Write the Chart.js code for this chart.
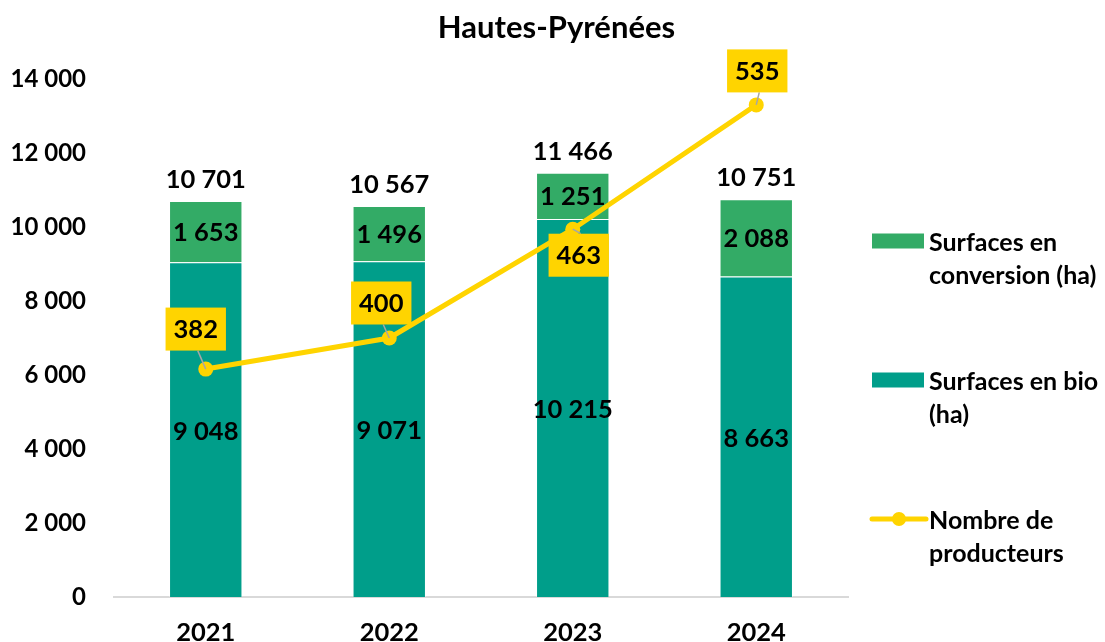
<!DOCTYPE html>
<html lang="fr">
<head>
<meta charset="utf-8">
<title>Hautes-Pyrénées</title>
<script src="https://cdn.jsdelivr.net/npm/chart.js@4.4.1/dist/chart.umd.min.js"></script>
<style>
  html, body { margin: 0; padding: 0; background: #fff; }
  #wrap { width: 1105px; height: 642px; position: relative; }
</style>
</head>
<body>
<div id="wrap"><canvas id="bioChart"></canvas></div>
<script>
// Valeurs
const years = ["2021", "2022", "2023", "2024"];
const surfBio = [9048, 9071, 10215, 8663];
const surfConversion = [1653, 1496, 1251, 2088];
const surfTotal = [10701, 10567, 11466, 10751];
const producteurs = [382, 400, 463, 535];

const chartTitle = "Hautes-Pyrénées";
const legendLabels = [
  ["Surfaces en", "conversion (ha)"],
  ["Surfaces en bio", "(ha)"],
  ["Nombre de", "producteurs"]
];

const COL_CONV = "#33AB66";
const COL_BIO = "#009E8A";
const COL_PROD = "#FFD400";
const FONT = 'Lato, "Open Sans", sans-serif';
const NUM_SIZE = 25.5;
const TICK_SIZE = 24;

// placement of the yellow labels around each point (dx, dy of box centre)
const prodLabelOffsets = [[-10, -40], [-8, -35], [6, 26], [1, -34]];

const fmt = v => String(Math.round(v)).replace(/\B(?=(\d{3})+(?!\d))/g, " ");

Chart.defaults.font.family = FONT;
Chart.defaults.color = "#000";

const labelsPlugin = {
  id: "valueLabels",
  afterDatasetsDraw(chart) {
    const ctx = chart.ctx;
    const lineMeta = chart.getDatasetMeta(0);
    const bioMeta = chart.getDatasetMeta(1);
    const convMeta = chart.getDatasetMeta(2);
    ctx.save();
    ctx.font = "bold " + NUM_SIZE + "px " + FONT;
    ctx.textAlign = "center";
    ctx.textBaseline = "middle";
    ctx.fillStyle = "#000";

    bioMeta.data.forEach((bar, i) => {
      ctx.fillText(fmt(surfBio[i]), bar.x, (bar.y + bar.base) / 2 + 2);
    });
    convMeta.data.forEach((bar, i) => {
      ctx.fillText(fmt(surfConversion[i]), bar.x, (bar.y + bar.base) / 2 + 1);
      ctx.fillText(fmt(surfTotal[i]), bar.x, bar.y - 21);
    });

    // producteurs : étiquettes jaunes
    lineMeta.data.forEach((pt, i) => {
      const txt = String(producteurs[i]);
      const w = ctx.measureText(txt).width + 16;
      const h = 43;
      const cx = pt.x + prodLabelOffsets[i][0];
      const cy = pt.y + prodLabelOffsets[i][1];
      const edge = cy < pt.y ? cy + h / 2 : cy - h / 2;
      if (Math.abs(cy - pt.y) > h / 2) {
        ctx.strokeStyle = "#A6A6A6";
        ctx.lineWidth = 1.5;
        ctx.beginPath();
        ctx.moveTo(pt.x, pt.y);
        ctx.lineTo(cx + 2, edge);
        ctx.stroke();
      }
      ctx.fillStyle = COL_PROD;
      ctx.fillRect(cx - w / 2, cy - h / 2, w, h);
      ctx.fillStyle = "#000";
      ctx.fillText(txt, cx, cy + 1);
    });
    ctx.restore();
  }
};

const legendPlugin = {
  id: "sideLegend",
  afterDraw(chart) {
    const ctx = chart.ctx;
    const x0 = chart.chartArea.right + 24;
    const rows = [241, 380, 519];
    ctx.save();
    // titre
    ctx.font = "bold 31px " + FONT;
    ctx.textAlign = "center";
    ctx.textBaseline = "middle";
    ctx.fillStyle = "#000";
    ctx.fillText(chartTitle, chart.width / 2 + 4, 28);

    ctx.font = "bold 25px " + FONT;
    ctx.textAlign = "left";
    rows.forEach((y, i) => {
      if (i < 2) {
        ctx.fillStyle = i === 0 ? COL_CONV : COL_BIO;
        ctx.fillRect(x0, y - 7.5, 52, 15);
      } else {
        ctx.strokeStyle = COL_PROD;
        ctx.lineWidth = 5;
        ctx.lineCap = "round";
        ctx.beginPath();
        ctx.moveTo(x0, y);
        ctx.lineTo(x0 + 54, y);
        ctx.stroke();
        ctx.fillStyle = COL_PROD;
        ctx.beginPath();
        ctx.arc(x0 + 27, y, 7, 0, Math.PI * 2);
        ctx.fill();
      }
      ctx.fillStyle = "#000";
      legendLabels[i].forEach((line, j) => {
        ctx.fillText(line, x0 + 57, y + 2 + j * 33);
      });
    });
    ctx.restore();
  }
};

new Chart(document.getElementById("bioChart").getContext("2d"), {
  data: {
    labels: years,
    datasets: [
      {
        type: "line",
        label: "Nombre de producteurs",
        data: producteurs,
        yAxisID: "y1",
        borderColor: COL_PROD,
        backgroundColor: COL_PROD,
        borderWidth: 5,
        pointRadius: 7.5,
        pointHoverRadius: 7.5,
        pointBorderWidth: 0,
        tension: 0,
        order: 0
      },
      {
        type: "bar",
        label: "Surfaces en bio (ha)",
        data: surfBio,
        backgroundColor: COL_BIO,
        borderColor: "rgba(255,255,255,0.35)",
        borderWidth: 1,
        stack: "s",
        order: 1
      },
      {
        type: "bar",
        label: "Surfaces en conversion (ha)",
        data: surfConversion,
        backgroundColor: COL_CONV,
        borderColor: "rgba(255,255,255,0.35)",
        borderWidth: 1,
        stack: "s",
        order: 2
      }
    ]
  },
  options: {
    responsive: true,
    maintainAspectRatio: false,
    animation: false,
    datasets: { bar: { barPercentage: 0.40, categoryPercentage: 1 } },
    layout: { padding: { left: 8, right: 257, top: 79, bottom: 0 } },
    plugins: {
      legend: { display: false },
      tooltip: { enabled: false },
      title: { display: false }
    },
    scales: {
      x: {
        stacked: true,
        grid: { display: false },
        border: { display: true, color: "#D9D9D9", width: 2 },
        ticks: { font: { size: NUM_SIZE, weight: "bold" }, color: "#000", padding: 12 },
        afterFit: s => { s.height = 45; }
      },
      y: {
        stacked: true,
        min: 0,
        max: 14000,
        grid: { display: false },
        border: { display: false },
        ticks: {
          stepSize: 2000,
          padding: 20,
          font: { size: TICK_SIZE, weight: "bold" },
          color: "#000",
          callback: v => fmt(v)
        },
        afterFit: s => { s.width = 106; }
      },
      y1: {
        display: false,
        min: 250,
        max: 550
      }
    }
  },
  plugins: [labelsPlugin, legendPlugin]
});
</script>
</body>
</html>
